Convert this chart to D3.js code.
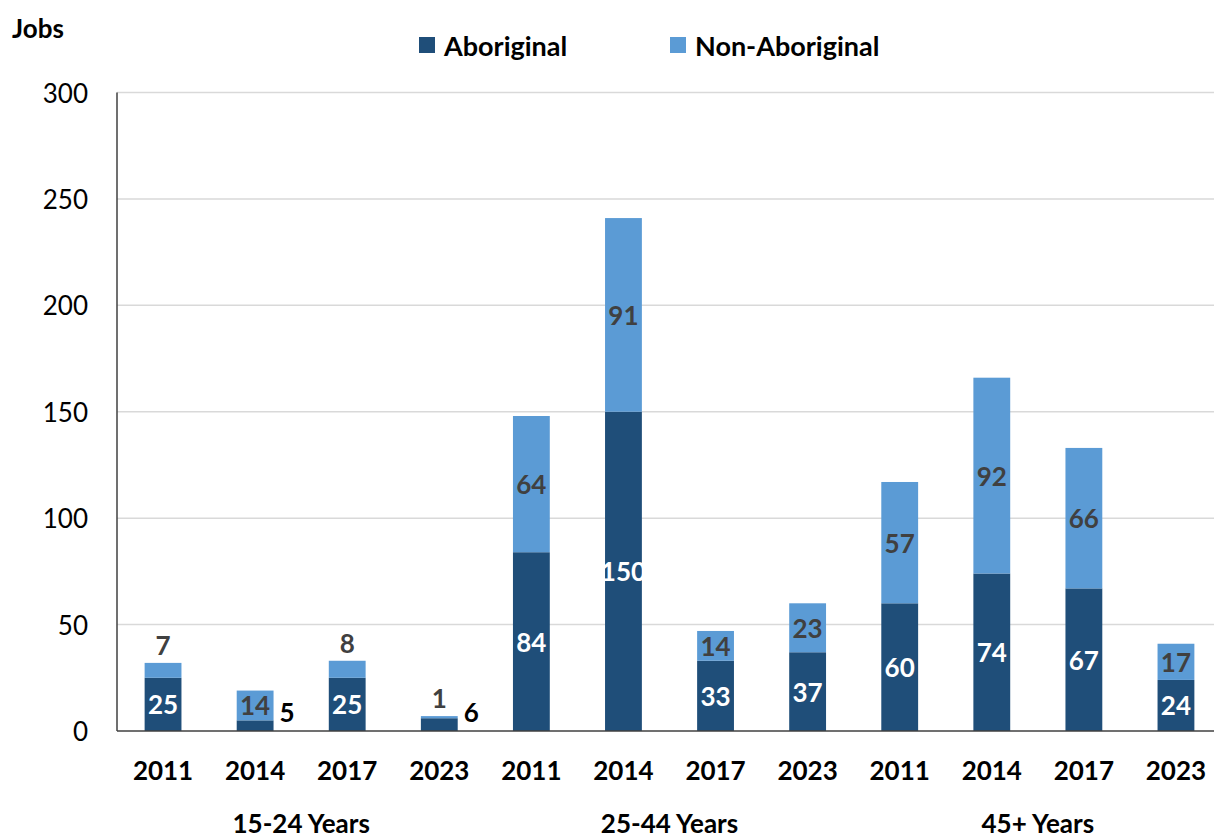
<!DOCTYPE html>
<html>
<head>
<meta charset="utf-8">
<script src="https://cdn.jsdelivr.net/npm/d3@7"></script>
<style>
  body { margin: 0; background: #fff; }
  svg { display: block; font-family: Lato, "Open Sans", sans-serif; }
</style>
</head>
<body>
<div class="chart"></div>
<script>
// data
const groups = ["15-24 Years", "25-44 Years", "45+ Years"];
const years = ["2011", "2014", "2017", "2023"];
const aboriginal = [25, 5, 25, 6, 84, 150, 33, 37, 60, 74, 67, 24];
const nonAboriginal = [7, 14, 8, 1, 64, 91, 14, 23, 57, 92, 66, 17];
const yTicks = [0, 50, 100, 150, 200, 250, 300];

const W = 1214, H = 839;
const darkBlue = "#1f4e79", lightBlue = "#5b9bd5";

const rows = aboriginal.map((a, i) => ({
  i, a, n: nonAboriginal[i],
  year: years[i % years.length],
  group: groups[Math.floor(i / years.length)]
}));

const svg = d3.select(".chart").append("svg")
  .attr("width", W).attr("height", H);

const x = d3.scaleBand()
  .domain(rows.map(d => d.i))
  .range([117, 1222])
  .paddingInner(0.6)
  .paddingOuter(0.3);

const y = d3.scaleLinear().domain([0, 300]).range([731, 92.5]);

// gridlines
svg.append("g")
  .selectAll("line")
  .data(yTicks.filter(t => t > 0))
  .join("line")
  .attr("x1", 117).attr("x2", W)
  .attr("y1", d => y(d)).attr("y2", d => y(d))
  .attr("stroke", "#d9d9d9").attr("stroke-width", 1.5);

// y tick labels
svg.append("g")
  .selectAll("text")
  .data(yTicks)
  .join("text")
  .attr("x", 88).attr("y", d => y(d))
  .attr("text-anchor", "end")
  .attr("dominant-baseline", "central")
  .style("font-size", "26px")
  .attr("fill", "#000")
  .text(d => d);

// stacked bars
const bars = svg.append("g")
  .selectAll("g")
  .data(rows)
  .join("g");

bars.append("rect")
  .attr("x", d => x(d.i)).attr("width", x.bandwidth())
  .attr("y", d => y(d.a)).attr("height", d => y(0) - y(d.a))
  .attr("fill", darkBlue);

bars.append("rect")
  .attr("x", d => x(d.i)).attr("width", x.bandwidth())
  .attr("y", d => y(d.a + d.n)).attr("height", d => y(d.a) - y(d.a + d.n))
  .attr("fill", lightBlue);

// aboriginal labels (small values sit to the right of the bar)
bars.append("text")
  .attr("x", d => d.a < 10 ? x(d.i) + x.bandwidth() + 6 : x(d.i) + x.bandwidth() / 2)
  .attr("y", d => d.a < 10 ? y(0) - 19 : y(d.a / 2))
  .attr("text-anchor", d => d.a < 10 ? "start" : "middle")
  .attr("dominant-baseline", "central")
  .attr("fill", d => d.a < 10 ? "#000" : "#fff")
  .style("font-size", "26px")
  .style("font-weight", "bold")
  .text(d => d.a);

// non-aboriginal labels (small values sit above the bar)
bars.append("text")
  .attr("x", d => x(d.i) + x.bandwidth() / 2)
  .attr("y", d => d.n < 10 ? y(d.a + d.n) - 18 : y(d.a + d.n / 2))
  .attr("text-anchor", "middle")
  .attr("dominant-baseline", "central")
  .attr("fill", "#404040")
  .style("font-size", "26px")
  .style("font-weight", "bold")
  .text(d => d.n);

// axes lines
svg.append("line")
  .attr("x1", 117).attr("x2", 117)
  .attr("y1", y(300)).attr("y2", y(0))
  .attr("stroke", "#404040").attr("stroke-width", 1.5);
svg.append("line")
  .attr("x1", 117).attr("x2", W)
  .attr("y1", y(0)).attr("y2", y(0))
  .attr("stroke", "#404040").attr("stroke-width", 1.5);

// year labels
svg.append("g")
  .selectAll("text")
  .data(rows)
  .join("text")
  .attr("x", d => x(d.i) + x.bandwidth() / 2)
  .attr("y", 770)
  .attr("text-anchor", "middle")
  .attr("dominant-baseline", "central")
  .style("font-size", "26px")
  .style("font-weight", "bold")
  .text(d => d.year);

// group labels
svg.append("g")
  .selectAll("text")
  .data(groups)
  .join("text")
  .attr("x", (g, gi) => {
    const first = x(gi * years.length);
    const last = x(gi * years.length + years.length - 1) + x.bandwidth();
    return (first + last) / 2;
  })
  .attr("y", 823)
  .attr("text-anchor", "middle")
  .attr("dominant-baseline", "central")
  .style("font-size", "26px")
  .style("font-weight", "bold")
  .text(d => d);

// y axis title
svg.append("text")
  .attr("x", 12).attr("y", 28)
  .attr("dominant-baseline", "central")
  .style("font-size", "26px")
  .style("font-weight", "bold")
  .text("Jobs");

// legend
const legendItems = [
  { name: "Aboriginal", color: darkBlue, x: 419 },
  { name: "Non-Aboriginal", color: lightBlue, x: 670 }
];
const legend = svg.append("g")
  .selectAll("g")
  .data(legendItems)
  .join("g")
  .attr("transform", d => `translate(${d.x}, 45)`);
legend.append("rect")
  .attr("x", 0).attr("y", -8)
  .attr("width", 16).attr("height", 16)
  .attr("fill", d => d.color);
legend.append("text")
  .attr("x", 25).attr("y", 0)
  .attr("dominant-baseline", "central")
  .style("font-size", "27px")
  .style("font-weight", "bold")
  .text(d => d.name);
</script>
</body>
</html>
